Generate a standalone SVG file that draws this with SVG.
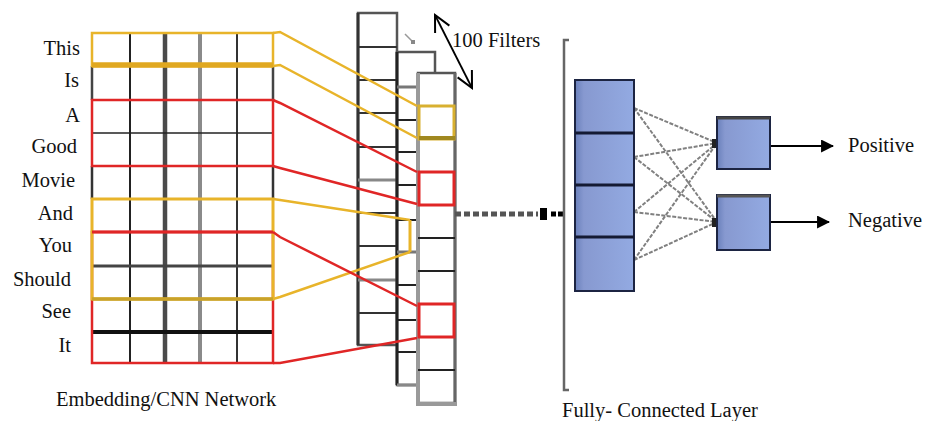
<svg xmlns="http://www.w3.org/2000/svg" width="926" height="421" viewBox="0 0 926 421">
<defs>
<style>
text{font-family:"Liberation Serif","Times New Roman",serif;font-size:20.5px;fill:#111}
.lbl{text-anchor:end}
.y{stroke:#E8B42A;fill:none}
.r{stroke:#E02626;fill:none}
.k{stroke:#222;fill:none}
.g{stroke:#777;fill:none}
.fc{stroke:#808080;stroke-width:2;stroke-dasharray:4 1.5;fill:none}
</style>
<linearGradient id="blue" x1="0" y1="0" x2="1" y2="0">
<stop offset="0" stop-color="#6a80bb"/>
<stop offset="0.15" stop-color="#8799d0"/>
<stop offset="1" stop-color="#93aae2"/>
</linearGradient>
<marker id="ah" viewBox="0 0 12 12" refX="11" refY="6" markerWidth="13" markerHeight="13" markerUnits="userSpaceOnUse" orient="auto">
<path d="M0,0 L12,6 L0,12 Z" fill="#000"/>
</marker>
<marker id="open" viewBox="0 0 20 20" refX="18" refY="10" markerWidth="20" markerHeight="20" markerUnits="userSpaceOnUse" orient="auto-start-reverse">
<path d="M2,2 L18,10 L2,18" fill="none" stroke="#000" stroke-width="2"/>
</marker>
</defs>
<rect width="926" height="421" fill="#fff"/>

<g id="words">
<text class="lbl" x="80" y="55">This</text>
<text class="lbl" x="79" y="87">Is</text>
<text class="lbl" x="80" y="122">A</text>
<text class="lbl" x="77" y="153">Good</text>
<text class="lbl" x="75" y="187">Movie</text>
<text class="lbl" x="73" y="220">And</text>
<text class="lbl" x="72" y="252">You</text>
<text class="lbl" x="71" y="286">Should</text>
<text class="lbl" x="71" y="318">See</text>
<text class="lbl" x="71" y="352">It</text>
</g>

<g id="embedding-grid">
<rect x="92" y="33" width="181" height="330" fill="#fff"/>
<line x1="130" y1="33" x2="130" y2="363" class="k" stroke-width="2"/>
<line x1="165" y1="33" x2="165" y2="363" stroke="#4a4a4a" stroke-width="4.5"/>
<line x1="200" y1="33" x2="200" y2="363" stroke="#8a8a8a" stroke-width="4"/>
<line x1="237" y1="33" x2="237" y2="363" stroke="#333" stroke-width="2"/>
<path d="M92,66 V100 M273,66 V100" stroke="#444" stroke-width="2.5" fill="none"/>
<path d="M92,166 V199 M273,166 V199" stroke="#333" stroke-width="2.5" fill="none"/>
<line x1="92" y1="133" x2="273" y2="133" class="k" stroke-width="1.5"/>
<line x1="92" y1="266" x2="273" y2="266" stroke="#444" stroke-width="3"/>
<line x1="92" y1="332" x2="273" y2="332" stroke="#111" stroke-width="4"/>
<rect x="92" y="100" width="181" height="66" class="r" stroke-width="2.5"/>
<rect x="92" y="232" width="181" height="131" class="r" stroke-width="2.5"/>
<rect x="92" y="33" width="181" height="33" class="y" stroke-width="2.5"/>
<line x1="92" y1="65" x2="273" y2="65" stroke="#E0A820" stroke-width="5.5"/>
<rect x="92" y="199" width="181" height="100" class="y" stroke-width="3"/>
<line x1="92" y1="232" x2="273" y2="232" class="r" stroke-width="3"/>
<line x1="92" y1="299" x2="273" y2="299" stroke="#C9A22A" stroke-width="3.5"/>
</g>
<text x="56" y="406">Embedding/CNN Network</text>

<g id="filter-back">
<rect x="358" y="13" width="39" height="332" fill="#fff" stroke="#555" stroke-width="2.5"/>
<line x1="358" y1="13" x2="358" y2="345" stroke="#333" stroke-width="3"/>
<path d="M358,47 H397 M358,80 H397 M358,113 H397 M358,147 H397 M358,180 H397 M358,213 H397 M358,246 H397 M358,280 H397 M358,313 H397" stroke="#333" stroke-width="2.2" fill="none"/>
<path d="M358,180 H397 M358,280 H397" stroke="#888" stroke-width="3" fill="none"/>
</g>

<g id="filter-middle">
<rect x="397" y="52" width="38" height="333" fill="#fff" stroke="#555" stroke-width="2.5"/>
<line x1="397" y1="52" x2="397" y2="385" stroke="#222" stroke-width="3"/>
<path d="M397,87 H417 M397,120 H417 M397,152 H417 M397,185 H417 M397,220 H417 M397,252 H417 M397,285 H417 M397,320 H417 M397,352 H417" stroke="#222" stroke-width="2.2" fill="none"/>
<path d="M397,87 H417 M397,252 H417" stroke="#777" stroke-width="3" fill="none"/>
<line x1="397" y1="385" x2="417" y2="385" stroke="#888" stroke-width="3"/>
</g>

<g id="filter-front">
<rect x="418" y="73" width="37" height="330" fill="#fff" stroke="#555" stroke-width="2.5"/>
<line x1="418" y1="73" x2="418" y2="403" stroke="#9a9a9a" stroke-width="4"/>
<line x1="455" y1="73" x2="455" y2="403" stroke="#666" stroke-width="3"/>
<line x1="416" y1="404" x2="457" y2="404" stroke="#999" stroke-width="4"/>
<path d="M418,238 H455 M418,271 H455 M418,370 H455" stroke="#222" stroke-width="2" fill="none"/>
<rect x="419" y="106" width="35" height="33" fill="none" stroke="#D8B030" stroke-width="3"/>
<line x1="419" y1="138" x2="455" y2="138" stroke="#A08820" stroke-width="4"/>
<rect x="419" y="172" width="35" height="33" class="r" stroke-width="3"/>
<rect x="419" y="304" width="35" height="33" class="r" stroke-width="3"/>
</g>

<g id="connectors">
<polyline points="273,33 280,32 417,106" class="y" stroke-width="2.5"/>
<polyline points="273,66 280,65 417,138" class="y" stroke-width="2.5"/>
<polyline points="273,100 280,103 417,172" class="r" stroke-width="2.5"/>
<polyline points="273,166 280,168 417,204" class="r" stroke-width="2.5"/>
<polyline points="273,199 280,200 410,220" class="y" stroke-width="2.5"/>
<polyline points="273,299 280,297 410,252" class="y" stroke-width="2.5"/>
<line x1="410" y1="220" x2="410" y2="252" class="y" stroke-width="3"/>
<polyline points="273,232 280,237 417,306" class="r" stroke-width="2.5"/>
<polyline points="273,363 280,363 417,338" class="r" stroke-width="2.5"/>
<line x1="405" y1="34" x2="412" y2="41" stroke="#999" stroke-width="1.5"/>
<rect x="411" y="40" width="4" height="4" fill="#888"/>
<line x1="435" y1="15" x2="472" y2="88" stroke="#000" stroke-width="1.8" marker-start="url(#open)" marker-end="url(#open)"/>
<line x1="455" y1="214" x2="538" y2="214" stroke="#555" stroke-width="5" stroke-dasharray="6 3"/>
<path d="M540,208 H547 V220 H540 Z" fill="#000"/>
<line x1="551" y1="214" x2="563" y2="214" stroke="#000" stroke-width="5" stroke-dasharray="5 2"/>
<g class="fc">
<line x1="634" y1="108" x2="717" y2="143"/>
<line x1="634" y1="108" x2="717" y2="222"/>
<line x1="634" y1="157" x2="717" y2="143"/>
<line x1="634" y1="157" x2="717" y2="222"/>
<line x1="634" y1="212" x2="717" y2="143"/>
<line x1="634" y1="212" x2="717" y2="222"/>
<line x1="634" y1="260" x2="717" y2="143"/>
<line x1="634" y1="260" x2="717" y2="222"/>
</g>
<rect x="712" y="139" width="6" height="9" fill="#222"/>
<rect x="712" y="218" width="6" height="9" fill="#222"/>
<line x1="770" y1="146" x2="833" y2="146" stroke="#000" stroke-width="1.8" marker-end="url(#ah)"/>
<line x1="770" y1="222" x2="829" y2="222" stroke="#000" stroke-width="1.8" marker-end="url(#ah)"/>
</g>

<g id="fc-bracket">
<path d="M569,40 H564 V390 H569" fill="none" stroke="#666" stroke-width="2.5"/>
</g>

<g id="fc-layer">
<rect x="575" y="80" width="59" height="211" fill="url(#blue)" stroke="#1c2442" stroke-width="2"/>
<path d="M575,133 H634 M575,185 H634 M575,237 H634" stroke="#141a33" stroke-width="3" fill="none"/>
</g>

<g id="out-positive">
<rect x="717" y="117" width="53" height="52" fill="url(#blue)" stroke="#1c2442" stroke-width="2"/>
<line x1="717" y1="118" x2="770" y2="118" stroke="#444" stroke-width="3"/>
</g>
<g id="out-negative">
<rect x="717" y="195" width="53" height="55" fill="url(#blue)" stroke="#1c2442" stroke-width="2"/>
<line x1="717" y1="196" x2="770" y2="196" stroke="#555" stroke-width="3"/>
</g>

<text x="452" y="47">100 Filters</text>
<text x="562" y="417">Fully- Connected Layer</text>
<text x="848" y="152">Positive</text>
<text x="848" y="227">Negative</text>
</svg>
